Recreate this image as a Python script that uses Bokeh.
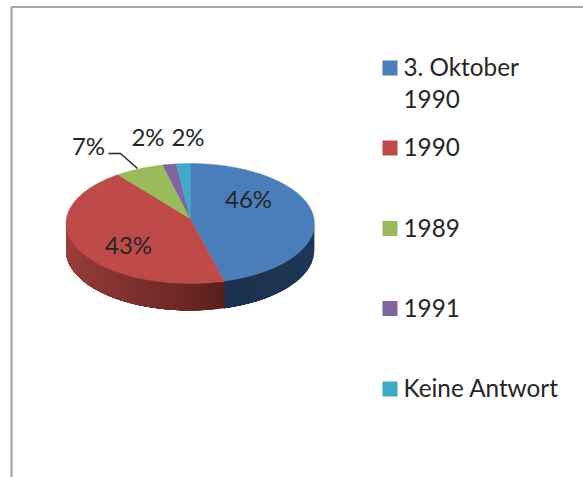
import math
from bokeh.plotting import figure
from bokeh.models import Range1d
from bokeh.core.properties import value
from bokeh.embed import file_html
from bokeh.resources import INLINE

categories = ["3. Oktober 1990", "1990", "1989", "1991", "Keine Antwort"]
shares = [46, 43, 7, 2, 2]
labels = ["46%", "43%", "7%", "2%", "2%"]
colors = ["#4A7EBB", "#BE4B4A", "#9ABB59", "#8063A1", "#3FA9C6"]

W, H = 583, 477
CX, CY, RX, RY = 189.7, 223, 124.2, 60   # ellipse of the rim
APEX_Y = 218                             # apex of the wedges
DEPTH = 27
WARP = 0.113                             # perspective pull of the angles
FONT = value("Lato")
INK = "#262626"

p = figure(width=W, height=H, x_range=Range1d(0, W), y_range=Range1d(H, 0),
           output_backend="svg", toolbar_location=None, min_border=0,
           outline_line_color=None, background_fill_color="white",
           border_fill_color="white",
           styles={"position": "absolute", "left": "0px", "top": "0px"})
p.xaxis.visible = False
p.yaxis.visible = False
p.grid.visible = False

# frame
p.line([11, 11, W], [H, 6.5, 6.5], line_color="#A9A9AD", line_width=2.2)

def warp(t):
    return t - WARP * math.sin(t)

def rim(t, dy=0):
    return CX + RX * math.sin(t), CY - RY * math.cos(t) + dy

def mix(a, b, f):
    ca = [int(a[i:i + 2], 16) for i in (1, 3, 5)]
    cb = [int(b[i:i + 2], 16) for i in (1, 3, 5)]
    return "#%02x%02x%02x" % tuple(round(x + (y - x) * f) for x, y in zip(ca, cb))

# angular boundaries
edges = [0.0]
for s in shares:
    edges.append(edges[-1] + s / sum(shares) * 2 * math.pi)
edges = [warp(e) for e in edges]

def wall(t0, t1, c0, c1, n, gamma=1.0):
    """Side wall between two angles, painted as overlapping bands so no seams show."""
    for i in range(n):
        a = t0 + (t1 - t0) * i / n
        m = 12
        arc = [rim(a + (t1 - a) * j / m) for j in range(m + 1)]
        xs = [q[0] for q in arc] + [q[0] for q in reversed(arc)]
        ys = [q[1] for q in arc] + [q[1] + DEPTH for q in reversed(arc)]
        p.patch(xs, ys, fill_color=mix(c0, c1, (i / n) ** gamma), line_color=None)

# visible side wall
wall(math.pi / 2, edges[1], "#1D3857", "#1B2F4A", 6)
wall(edges[1], 3 * math.pi / 2, "#591F1C", "#A44240", 40, 0.8)

# top face
for k, col in enumerate(colors):
    n = max(6, int((edges[k + 1] - edges[k]) * 40))
    pts = [rim(edges[k] + (edges[k + 1] - edges[k]) * j / n) for j in range(n + 1)]
    xs = [CX] + [q[0] for q in pts]
    ys = [APEX_Y] + [q[1] for q in pts]
    p.patch(xs, ys, fill_color=col, line_color=col, line_width=0.4)

# leader line for the 7% label
p.line([108, 120, 137], [153, 153, 168], line_color=INK, line_width=1.5)

# data labels
lab_x = [248, 128, 88, 147.5, 187.5]
lab_y = [198, 244, 145, 136, 136]
p.text(lab_x, lab_y, text=labels, text_font=FONT, text_font_size="24px",
       text_color=INK, text_align="center", text_baseline="middle")

# legend
leg_y = [67.5, 147.5, 228, 308, 388.5]
for yy, col in zip(leg_y, colors):
    p.rect([389.5], [yy], width=15, height=15, fill_color=col, line_color=None)
txt_y = [66, 146, 227, 307, 387]
names = ["3. Oktober", "1990", "1989", "1991", "Keine Antwort"]
p.text([403] * 5, txt_y, text=names, text_font=FONT, text_font_size="24.3px",
       text_color=INK, text_align="left", text_baseline="middle")
p.text([403], [98], text=["1990"], text_font=FONT, text_font_size="24.3px",
       text_color=INK, text_align="left", text_baseline="middle")

open("out.html", "w").write(file_html(p, INLINE))
